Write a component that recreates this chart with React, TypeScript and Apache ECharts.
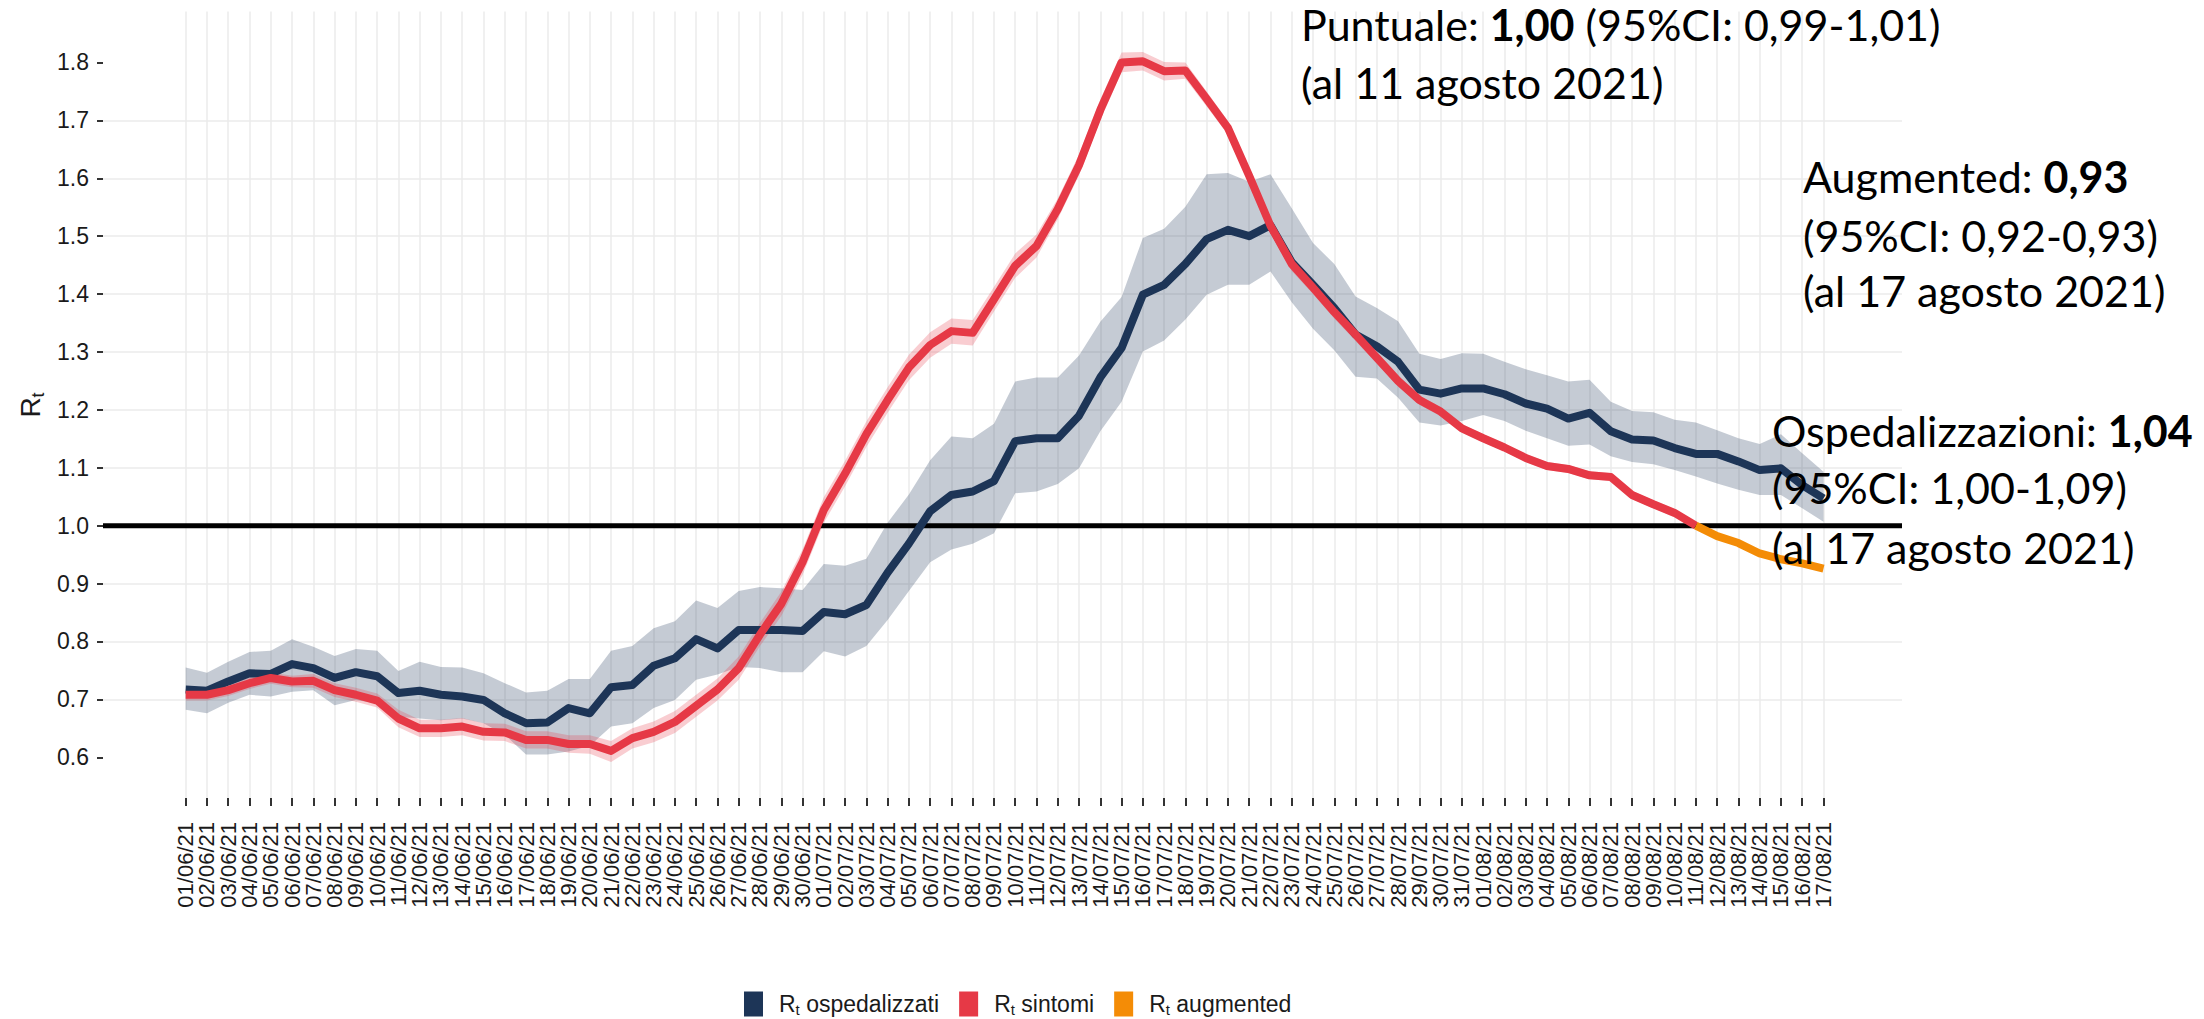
import React, { useEffect, useRef } from 'react';
import * as echarts from 'echarts';

// ---------- data ----------
const DATES = [
  '01/06/21','02/06/21','03/06/21','04/06/21','05/06/21','06/06/21','07/06/21','08/06/21','09/06/21','10/06/21',
  '11/06/21','12/06/21','13/06/21','14/06/21','15/06/21','16/06/21','17/06/21','18/06/21','19/06/21','20/06/21',
  '21/06/21','22/06/21','23/06/21','24/06/21','25/06/21','26/06/21','27/06/21','28/06/21','29/06/21','30/06/21',
  '01/07/21','02/07/21','03/07/21','04/07/21','05/07/21','06/07/21','07/07/21','08/07/21','09/07/21','10/07/21',
  '11/07/21','12/07/21','13/07/21','14/07/21','15/07/21','16/07/21','17/07/21','18/07/21','19/07/21','20/07/21',
  '21/07/21','22/07/21','23/07/21','24/07/21','25/07/21','26/07/21','27/07/21','28/07/21','29/07/21','30/07/21',
  '31/07/21','01/08/21','02/08/21','03/08/21','04/08/21','05/08/21','06/08/21','07/08/21','08/08/21','09/08/21',
  '10/08/21','11/08/21','12/08/21','13/08/21','14/08/21','15/08/21','16/08/21','17/08/21'
];

const HOSP = [
  0.717,0.715,0.731,0.745,0.744,0.761,0.754,0.737,0.747,0.740,
  0.711,0.715,0.708,0.705,0.699,0.676,0.659,0.660,0.685,0.676,
  0.721,0.725,0.758,0.771,0.804,0.788,0.820,0.820,0.820,0.818,
  0.851,0.847,0.863,0.919,0.969,1.025,1.053,1.059,1.077,1.146,
  1.151,1.151,1.190,1.256,1.307,1.399,1.416,1.452,1.495,1.511,
  1.500,1.519,1.455,1.416,1.376,1.330,1.310,1.283,1.235,1.228,
  1.237,1.237,1.227,1.211,1.202,1.185,1.195,1.163,1.149,1.147,
  1.134,1.124,1.124,1.111,1.096,1.099,1.070,1.047
];
const HOSP_UP = [
  0.755,0.746,0.765,0.782,0.784,0.804,0.791,0.775,0.787,0.784,
  0.749,0.765,0.756,0.755,0.745,0.728,0.712,0.715,0.735,0.735,
  0.784,0.792,0.823,0.835,0.871,0.858,0.887,0.894,0.892,0.889,
  0.934,0.931,0.943,1.005,1.054,1.113,1.154,1.151,1.176,1.249,
  1.256,1.256,1.294,1.352,1.395,1.497,1.513,1.551,1.607,1.609,
  1.594,1.607,1.548,1.488,1.452,1.396,1.376,1.353,1.297,1.288,
  1.298,1.297,1.283,1.270,1.260,1.249,1.252,1.214,1.198,1.196,
  1.183,1.178,1.165,1.151,1.141,1.158,1.125,1.093
];
const HOSP_LO = [
  0.682,0.676,0.694,0.708,0.705,0.713,0.716,0.690,0.699,0.693,
  0.670,0.667,0.664,0.667,0.659,0.639,0.605,0.605,0.610,0.620,
  0.653,0.659,0.685,0.699,0.734,0.743,0.756,0.754,0.747,0.747,
  0.783,0.774,0.792,0.837,0.887,0.937,0.959,0.969,0.987,1.056,
  1.059,1.072,1.099,1.163,1.214,1.301,1.320,1.356,1.399,1.416,
  1.416,1.439,1.386,1.340,1.303,1.257,1.254,1.221,1.178,1.173,
  1.181,1.191,1.181,1.164,1.151,1.138,1.140,1.120,1.110,1.106,
  1.096,1.085,1.073,1.062,1.053,1.053,1.030,1.007
];

const SINT = [
  0.708,0.708,0.716,0.728,0.737,0.731,0.732,0.716,0.708,0.698,
  0.667,0.650,0.650,0.653,0.644,0.643,0.630,0.630,0.623,0.623,
  0.611,0.633,0.644,0.661,0.689,0.717,0.754,0.812,0.865,0.937,
  1.027,1.090,1.158,1.217,1.273,1.312,1.336,1.333,1.391,1.449,
  1.483,1.547,1.623,1.718,1.800,1.802,1.785,1.786,1.737,1.687,
  1.604,1.518,1.452,1.411,1.369,1.330,1.290,1.250,1.217,1.197,
  1.168,1.151,1.135,1.117,1.103,1.098,1.087,1.084,1.053,1.037,
  1.022,1.000
];
const SINT_UP = [
  0.718,0.718,0.726,0.738,0.747,0.741,0.744,0.728,0.720,0.710,
  0.682,0.665,0.665,0.668,0.659,0.658,0.645,0.645,0.638,0.638,
  0.628,0.650,0.662,0.680,0.708,0.736,0.774,0.832,0.886,0.959,
  1.049,1.112,1.180,1.239,1.295,1.334,1.358,1.355,1.412,1.470,
  1.503,1.565,1.641,1.736,1.817,1.818,1.801,1.800,1.750,1.699,
  1.616,1.530,1.464,1.422,1.380,1.341,1.300,1.260,1.225,1.205,
  1.175,1.158,1.142,1.124,1.110,1.105,1.094,1.091,1.060,1.044,
  1.029,1.007
];
const SINT_LO = [
  0.698,0.698,0.706,0.718,0.727,0.721,0.720,0.704,0.696,0.686,
  0.652,0.635,0.635,0.638,0.629,0.628,0.615,0.615,0.608,0.606,
  0.592,0.615,0.626,0.642,0.670,0.698,0.734,0.792,0.844,0.915,
  1.005,1.068,1.136,1.195,1.251,1.290,1.314,1.311,1.370,1.428,
  1.463,1.529,1.605,1.700,1.783,1.786,1.769,1.772,1.724,1.675,
  1.592,1.506,1.440,1.400,1.358,1.319,1.280,1.240,1.209,1.189,
  1.161,1.144,1.128,1.110,1.096,1.091,1.080,1.077,1.046,1.030,
  1.015,0.993
];

const AUG_START = '11/08/21';
const AUG = [1.000, 0.982, 0.970, 0.952, 0.942, 0.935, 0.926];

const Y_TICKS = [0.6, 0.7, 0.8, 0.9, 1.0, 1.1, 1.2, 1.3, 1.4, 1.5, 1.6, 1.7, 1.8];
const REF_VALUE = 1.0;

const SERIES_NAMES = ['ospedalizzati', 'sintomi', 'augmented'];
const COLORS = ['#1d3557', '#e63946', '#f48c06'];

const ANNOTATIONS = [
  'Puntuale: {b|1,00} (95%CI: 0,99-1,01)',
  '(al 11 agosto 2021)',
  'Augmented: {b|0,93}',
  '(95%CI: 0,92-0,93)',
  '(al 17 agosto 2021)',
  'Ospedalizzazioni: {b|1,04}',
  '(95%CI: 1,00-1,09)',
  '(al 17 agosto 2021)',
];

// ---------- layout ----------
const W = 2204;
const H = 1019;
const PANEL = { left: 103, right: 1902, top: 11.5, bottom: 798 };
const CAT = { first: 185.7, last: 1823.5 };
const Y_MIN = 0.5297;
const Y_MAX = 1.888;
const ANN_POS = [
  [1301, 40], [1301, 97.6],
  [1803, 191.4], [1803, 250.7], [1803, 306],
  [1772, 446], [1772, 503], [1772, 562.6],
];
const ANN_FONT = 'Lato';
const ANN_SIZE = 43;
const AX_FONT = '"Liberation Sans", Arial, sans-serif';

function pad(arr: number[], startIdx: number, len: number) {
  const out: (number | null)[] = [];
  for (let i = 0; i < len; i++) {
    const j = i - startIdx;
    out.push(j >= 0 && j < arr.length ? arr[j] : null);
  }
  return out;
}

export default function App() {
  const ref = useRef<HTMLDivElement>(null);

  useEffect(() => {
    document.body.style.margin = '0';
    if (!ref.current) return;
    const chart = echarts.init(ref.current, null, { renderer: 'svg' });
    const n = DATES.length;

    const hospDiff = HOSP_UP.map((u, i) => +(u - HOSP_LO[i]).toFixed(4));
    const sintLo = pad(SINT_LO, 0, n);
    const sintDiff = pad(SINT_UP.map((u, i) => +(u - SINT_LO[i]).toFixed(4)), 0, n);
    const sint = pad(SINT, 0, n);
    const aug = pad(AUG, DATES.indexOf(AUG_START), n);

    const bandBase = {
      type: 'line' as const,
      xAxisIndex: 1,
      yAxisIndex: 1,
      symbol: 'none',
      showSymbol: false,
      silent: true,
      lineStyle: { width: 0, opacity: 0 },
      emphasis: { disabled: true },
    };
    const lineBase = {
      type: 'line' as const,
      xAxisIndex: 1,
      yAxisIndex: 1,
      symbol: 'none',
      showSymbol: false,
      silent: true,
      emphasis: { disabled: true },
    };

    const sub = {
      fontSize: 15,
      lineHeight: 16,
      verticalAlign: 'bottom',
      fontFamily: AX_FONT,
      color: '#1a1a1a',
    };

    const graphics: any[] = [
      {
        type: 'text',
        x: 30,
        y: 405,
        rotation: Math.PI / 2,
        style: {
          text: 'R{s|t}',
          fontSize: 28,
          lineHeight: 34,
          fontFamily: AX_FONT,
          fill: '#1a1a1a',
          align: 'center',
          verticalAlign: 'middle',
          rich: { s: { fontSize: 18, lineHeight: 20, verticalAlign: 'bottom', fontFamily: AX_FONT, fill: '#1a1a1a' } },
        },
      },
    ];
    ANNOTATIONS.forEach((t, k) => {
      const [x, base] = ANN_POS[k];
      graphics.push({
        type: 'text',
        x,
        y: base - ANN_SIZE * 0.35,
        z: 100,
        style: {
          text: t,
          fontFamily: ANN_FONT,
          fontSize: ANN_SIZE,
          lineHeight: ANN_SIZE * 1.2,
          fill: '#000',
          align: 'left',
          verticalAlign: 'middle',
          rich: {
            b: { fontFamily: ANN_FONT, fontSize: ANN_SIZE, fontWeight: 'bold', lineHeight: ANN_SIZE * 1.2, fill: '#000' },
          },
        },
      });
    });

    chart.setOption({
      animation: false,
      backgroundColor: '#ffffff',
      grid: [
        { left: PANEL.left, width: PANEL.right - PANEL.left, top: PANEL.top, height: PANEL.bottom - PANEL.top },
        { left: CAT.first, width: CAT.last - CAT.first, top: PANEL.top, height: PANEL.bottom - PANEL.top },
      ],
      xAxis: [
        { type: 'value', gridIndex: 0, min: 0, max: 1, show: false },
        {
          type: 'category',
          gridIndex: 1,
          data: DATES,
          boundaryGap: false,
          axisLine: { show: false },
          axisTick: { show: true, length: 8, lineStyle: { color: '#333', width: 2 }, interval: 0 },
          axisLabel: {
            rotate: 90,
            interval: 0,
            margin: 24,
            fontSize: 22,
            fontFamily: AX_FONT,
            color: '#1a1a1a',
          },
          splitLine: { show: true, interval: 0, lineStyle: { color: '#ebebeb', width: 1.5 } },
        },
      ],
      yAxis: [
        {
          type: 'value',
          gridIndex: 0,
          min: Y_MIN,
          max: Y_MAX,
          splitNumber: 13,
          minInterval: 0.1,
          maxInterval: 0.1,
          axisLine: { show: false },
          axisTick: { show: true, length: 6, lineStyle: { color: '#333', width: 2 }, customValues: Y_TICKS },
          axisLabel: {
            margin: 14,
            fontSize: 23,
            fontFamily: AX_FONT,
            color: '#1a1a1a',
            customValues: Y_TICKS,
            formatter: (v: number) => v.toFixed(1),
          },
          splitLine: { show: true, showMinLine: false, showMaxLine: false, lineStyle: { color: '#ebebeb', width: 1.5 } },
        },
        { type: 'value', gridIndex: 1, min: Y_MIN, max: Y_MAX, show: false, splitLine: { show: false } },
      ],
      legend: {
        show: true,
        left: 739,
        top: 986,
        itemWidth: 19,
        itemHeight: 25,
        itemGap: 20,
        icon: 'rect',
        selectedMode: false,
        data: SERIES_NAMES,
        formatter: (name: string) => 'R{s|t} ' + name,
        textStyle: {
          fontSize: 23,
          lineHeight: 26,
          fontFamily: AX_FONT,
          color: '#1a1a1a',
          padding: [0, 0, 0, 11],
          rich: { s: sub },
        },
      },
      graphic: graphics,
      series: [
        { ...bandBase, name: 'hospLo', stack: 'hb', data: HOSP_LO },
        { ...bandBase, name: 'hospBand', stack: 'hb', data: hospDiff, areaStyle: { color: 'rgba(29,53,87,0.26)', opacity: 1 } },
        { ...bandBase, name: 'sintLo', stack: 'sb', data: sintLo },
        { ...bandBase, name: 'sintBand', stack: 'sb', data: sintDiff, areaStyle: { color: 'rgba(230,57,70,0.25)', opacity: 1 } },
        {
          type: 'line',
          name: 'ref',
          xAxisIndex: 0,
          yAxisIndex: 0,
          symbol: 'none',
          silent: true,
          data: [[0, REF_VALUE], [1, REF_VALUE]],
          lineStyle: { color: '#000', width: 5 },
        },
        { ...lineBase, name: SERIES_NAMES[0], data: HOSP, itemStyle: { color: COLORS[0] }, lineStyle: { color: COLORS[0], width: 8, join: 'round' } },
        { ...lineBase, name: SERIES_NAMES[1], data: sint, itemStyle: { color: COLORS[1] }, lineStyle: { color: COLORS[1], width: 8, join: 'round' } },
        { ...lineBase, name: SERIES_NAMES[2], data: aug, itemStyle: { color: COLORS[2] }, lineStyle: { color: COLORS[2], width: 8, join: 'round' } },
      ],
    });

    return () => chart.dispose();
  }, []);

  return <div ref={ref} style={{ width: W, height: H }} />;
}
